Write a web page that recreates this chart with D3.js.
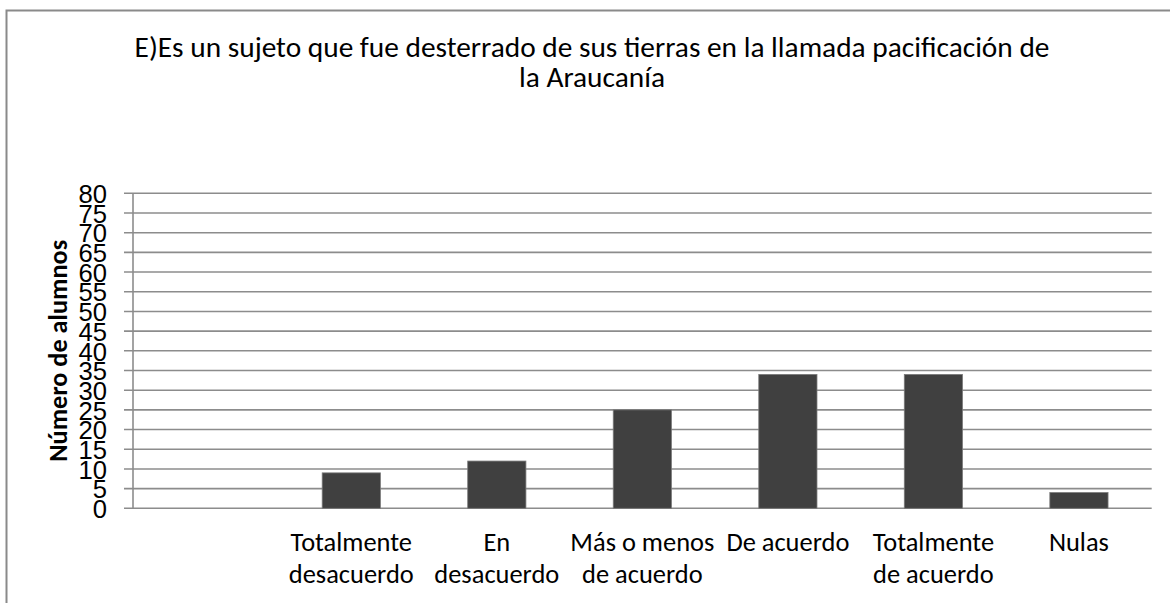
<!DOCTYPE html>
<html>
<head>
<meta charset="utf-8">
<script src="https://cdn.jsdelivr.net/npm/d3@7/dist/d3.min.js"></script>
<style>
  html, body { margin: 0; padding: 0; background: #fff; overflow: hidden; }
  svg { display: block; font-family: Carlito, Calibri, Lato, "Open Sans", sans-serif; }
</style>
</head>
<body>
<svg id="chart" width="1170" height="603"></svg>
<script>
const titleLines = ["E)Es un sujeto que fue desterrado de sus tierras en la llamada pacificación de", "la Araucanía"];
const yAxisTitle = "Número de alumnos";
const categories = ["", "Totalmente desacuerdo", "En desacuerdo", "Más o menos de acuerdo", "De acuerdo", "Totalmente de acuerdo", "Nulas"];
const values = [null, 9, 12, 25, 34, 34, 4];
const yTicks = [0, 5, 10, 15, 20, 25, 30, 35, 40, 45, 50, 55, 60, 65, 70, 75, 80];

const svg = d3.select("#chart");
const gridColor = "#8c8c8c";
const barColor = "#404040";

// helper: font size so a string reaches a target width
function fitSize(text, weight, target) {
  const t = svg.append("text").attr("font-size", 20).attr("font-weight", weight).text(text);
  const w = t.node().getComputedTextLength();
  t.remove();
  return 20 * target / w;
}

// outer border (extends past the visible window)
svg.append("rect")
  .attr("x", 6.5).attr("y", 10.5)
  .attr("width", 1173).attr("height", 620)
  .attr("fill", "none").attr("stroke", "#8a8a8a").attr("stroke-width", 2);

const plot = { left: 133, right: 1151.7, top: 193.3, bottom: 508.3 };

const x = d3.scaleBand().domain(categories).range([plot.left, plot.right]).paddingInner(0.6).paddingOuter(0.3);
const y = d3.scaleLinear().domain([0, 80]).range([plot.bottom, plot.top]);

// title
const titleSize = fitSize(titleLines[0], "normal", 915);
svg.append("text")
  .attr("x", 592).attr("text-anchor", "middle")
  .attr("font-size", titleSize).attr("fill", "#000")
  .selectAll("tspan").data(titleLines).join("tspan")
  .attr("x", 592).attr("y", (d, i) => 57 + i * 30)
  .text(d => d);

// gridlines
svg.append("g")
  .selectAll("line").data(yTicks).join("line")
  .attr("x1", plot.left - 9).attr("x2", plot.right)
  .attr("y1", d => y(d)).attr("y2", d => y(d))
  .attr("stroke", gridColor).attr("stroke-width", 1.6);

// y axis line
svg.append("line")
  .attr("x1", plot.left).attr("x2", plot.left)
  .attr("y1", y(80)).attr("y2", y(0))
  .attr("stroke", gridColor).attr("stroke-width", 1.6);

// y axis via d3 (labels only)
const tickSize = fitSize("80", "normal", 26);
const yAxis = d3.axisLeft(y).tickValues(yTicks).tickSize(0).tickPadding(0);
const gy = svg.append("g").attr("transform", `translate(107,0)`).call(yAxis);
gy.select(".domain").remove();
gy.selectAll("text")
  .attr("font-size", tickSize).attr("font-family", null)
  .attr("fill", "#000").attr("x", 0).attr("dy", "0.36em");

// y axis title
const yTitleSize = fitSize(yAxisTitle, "bold", 222);
svg.append("text")
  .attr("transform", `translate(67,${(plot.top + plot.bottom) / 2}) rotate(-90)`)
  .attr("text-anchor", "middle").attr("font-weight", "bold")
  .attr("font-size", yTitleSize).attr("fill", "#000")
  .text(yAxisTitle);

// bars
svg.append("g")
  .selectAll("rect").data(categories.map((c, i) => ({ c, v: values[i] })).filter(d => d.v != null))
  .join("rect")
  .attr("x", d => x(d.c)).attr("width", x.bandwidth())
  .attr("y", d => y(d.v)).attr("height", d => y(0) - y(d.v))
  .attr("fill", barColor).attr("stroke", "#7a7a7a").attr("stroke-width", 0.8);

// category labels with wrapping
const catSize = fitSize("desacuerdo", "normal", 125);
const maxW = x.step();
const measurer = svg.append("text").attr("font-size", catSize);
function wrap(label) {
  const words = label.split(" ");
  const lines = [];
  let cur = "";
  words.forEach(w => {
    const test = cur ? cur + " " + w : w;
    measurer.text(test);
    if (cur && measurer.node().getComputedTextLength() > maxW) {
      lines.push(cur); cur = w;
    } else cur = test;
  });
  if (cur) lines.push(cur);
  return lines;
}
const labels = categories.map(c => ({ c, lines: c ? wrap(c) : [] }));
measurer.remove();

const gx = svg.append("g");
labels.forEach(d => {
  const cx = x(d.c) + x.bandwidth() / 2;
  const t = gx.append("text").attr("text-anchor", "middle").attr("font-size", catSize).attr("fill", "#000");
  t.selectAll("tspan").data(d.lines).join("tspan")
    .attr("x", cx).attr("y", (l, i) => 551 + i * 31.5)
    .text(l => l);
});
</script>
</body>
</html>
